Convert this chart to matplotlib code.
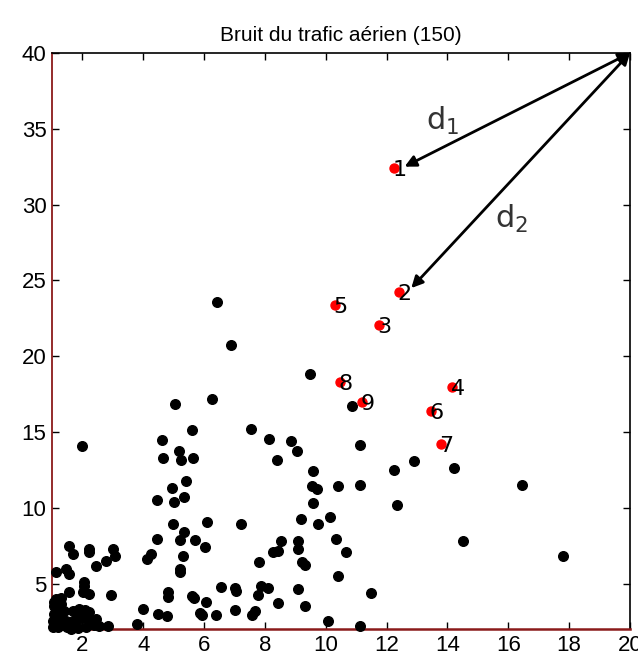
import matplotlib
matplotlib.use('Agg')
import matplotlib.pyplot as plt
import numpy as np

# noise measurements (x = distance, y = level)
black_x = [1.13, 1.30, 1.08, 1.30, 1.24, 1.40, 1.08, 1.30, 1.46, 1.30, 1.04, 1.02, 1.19, 1.68, 1.68,
           1.90, 2.09, 2.22, 2.01, 1.84, 2.17, 2.34, 2.44, 2.39, 2.55, 2.12, 1.84, 1.62, 2.83, 1.56,
           2.01, 2.22, 2.94, 2.06, 2.06, 1.12, 1.45, 1.56, 2.44, 2.77, 1.56, 1.68, 2.22, 2.22, 2.99,
           3.07, 3.78, 4.00, 4.49, 4.77, 4.82, 4.82, 5.59, 5.66, 5.86, 5.92, 6.05, 6.38, 6.55, 7.03,
           7.05, 7.03, 5.20, 5.20, 4.27, 4.11, 5.31, 4.44, 5.20, 5.70, 6.03, 5.33, 4.98, 6.10, 7.20,
           4.44, 5.01, 5.33, 4.95, 5.42, 4.60, 4.66, 5.17, 5.23, 5.64, 5.60, 5.04, 6.25, 2.00, 6.43,
           6.88, 7.54, 8.14, 8.87, 9.04, 8.38, 9.47, 10.86, 11.14, 9.58, 9.53, 9.71, 10.40, 11.14, 9.58,
           12.23, 12.90, 12.34, 14.23, 16.45, 14.51, 17.81, 9.20, 9.75, 10.13, 8.54, 9.09, 9.09, 8.25,
           8.43, 10.35, 10.68, 7.81, 9.23, 9.32, 10.40, 7.86, 8.10, 7.78, 9.09, 8.43, 9.31, 7.56, 7.67,
           10.07, 11.14, 11.50, 1.05, 1.20, 1.50, 1.15]
black_y = [3.96, 4.03, 3.53, 3.63, 3.20, 3.20, 2.97, 2.75, 2.54, 2.43, 2.54, 2.10, 2.14, 3.20, 2.54,
           3.30, 3.24, 3.09, 2.80, 2.64, 2.64, 2.54, 2.64, 2.25, 2.22, 2.14, 2.05, 2.02, 2.22, 4.42,
           4.42, 4.32, 4.25, 5.08, 4.86, 5.74, 5.97, 5.64, 6.18, 6.51, 7.50, 6.95, 7.28, 7.06, 7.28,
           6.84, 2.34, 3.33, 3.00, 2.84, 4.42, 4.09, 4.20, 4.05, 3.07, 2.89, 3.76, 2.89, 4.78, 4.72,
           4.50, 3.22, 5.97, 5.74, 6.97, 6.62, 6.84, 7.94, 7.85, 7.85, 7.39, 8.38, 8.95, 9.06, 8.90,
           10.49, 10.38, 10.71, 11.31, 11.79, 14.49, 13.28, 13.72, 13.17, 13.28, 15.15, 16.84, 17.17, 14.05, 23.59,
           20.72, 15.19, 14.54, 14.42, 13.72, 13.17, 18.84, 16.73, 14.16, 12.40, 11.41, 11.26, 11.41, 11.52, 10.30,
           12.51, 13.06, 10.20, 12.62, 11.48, 7.83, 6.84, 9.28, 8.95, 9.39, 7.83, 7.83, 7.28, 7.06,
           7.17, 7.94, 7.06, 6.40, 6.40, 6.25, 5.52, 4.86, 4.71, 4.27, 4.65, 3.72, 3.50, 2.95, 3.17,
           2.51, 2.18, 4.38, 3.80, 2.45, 2.10, 3.35]

# the nine points closest to the reference corner
red_x = [12.23, 12.41, 11.75, 14.16, 10.29, 13.46, 13.79, 10.46, 11.18]
red_y = [32.40, 24.26, 22.07, 17.96, 23.39, 16.40, 14.19, 18.29, 16.96]
red_labels = ['1', '2', '3', '4', '5', '6', '7', '8', '9']

corner = (20, 40)
arrow_ends = [(12.59, 32.5), (12.81, 24.49)]
dist_labels = [r'$\mathregular{d_1}$', r'$\mathregular{d_2}$']
dist_pos = [(13.84, 35.52), (16.12, 29.06)]

fig = plt.figure(figsize=(6.38, 6.56), dpi=100)
ax = fig.add_axes([0.0815, 0.0412, 0.906, 0.878])

ax.scatter(black_x, black_y, s=48, color='black', zorder=3, clip_on=False)
ax.scatter(red_x, red_y, s=42, color='red', zorder=4, clip_on=False)
for x, y, lab in zip(red_x, red_y, red_labels):
    ax.text(x - 0.05, y - 0.15, lab, fontsize=16, ha='left', va='center', zorder=5)

for end in arrow_ends:
    ax.annotate('', xy=end, xytext=corner, annotation_clip=False,
                arrowprops=dict(arrowstyle='<|-|>', lw=2, color='black',
                                mutation_scale=17, shrinkA=0, shrinkB=0))
for lab, (x, y) in zip(dist_labels, dist_pos):
    ax.text(x, y, lab, fontsize=22, ha='center', va='center', color='#333333')

ax.set_xlim(1, 20)
ax.set_ylim(2, 40)
ax.set_xticks(np.arange(2, 21, 2))
ax.set_yticks(np.arange(5, 41, 5))
ax.tick_params(direction='in', length=5, width=1, labelsize=16,
               top=True, right=True, pad=4)
for lbl in ax.get_xticklabels() + ax.get_yticklabels():
    lbl.set_fontfamily('Liberation Sans')

ax.spines['left'].set_color('#8b1a1a')
ax.spines['bottom'].set_color('#8b1a1a')
ax.spines['bottom'].set_linewidth(1.8)
ax.spines['left'].set_linewidth(1.3)
ax.spines['top'].set_linewidth(1.2)
ax.spines['right'].set_linewidth(1.2)

ax.set_title('Bruit du trafic aérien (150)', fontsize=15, family='Liberation Sans', pad=9)

plt.savefig('out.png', dpi=100)
